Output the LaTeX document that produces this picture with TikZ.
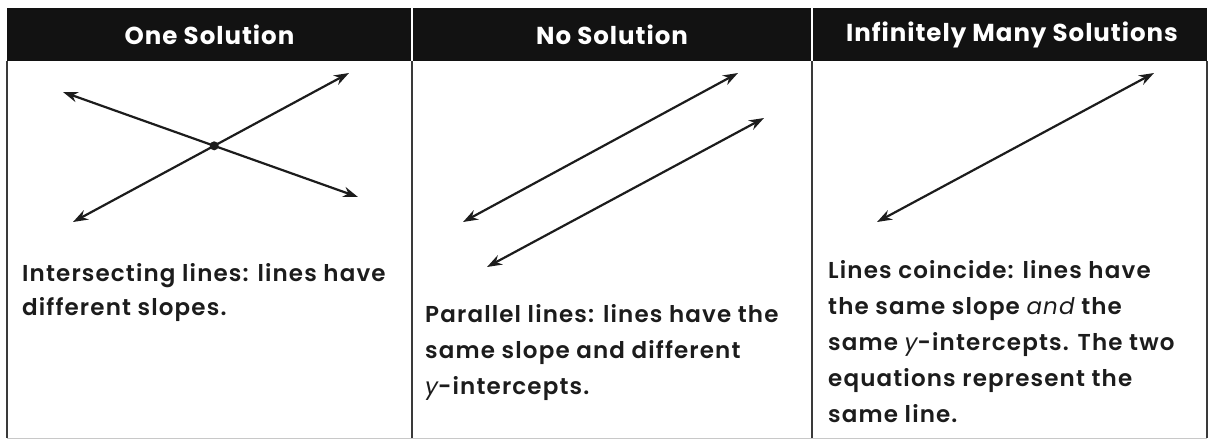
\documentclass[tikz,border=0pt]{standalone}
\usepackage{fontspec}
\setmainfont{Poppins}[BoldFont={* SemiBold},BoldItalicFont={* SemiBold Italic},LetterSpace=5]
\newfontfamily\hfont{Poppins}[LetterSpace=4]
\usetikzlibrary{arrows.meta}
\definecolor{ink}{HTML}{1C1C1C}
\definecolor{hdr}{HTML}{121212}
\definecolor{rulec}{HTML}{3A3A3A}
\definecolor{rulel}{HTML}{C8C8C8}
\begin{document}
\begin{tikzpicture}[x=1pt,y=-1pt,
  dbl/.style={{Stealth[length=15pt,width=10.5pt]}-{Stealth[length=15pt,width=10.5pt]}, line width=2.2pt, draw=ink},
  head/.style={text=white, font=\hfont\fontsize{24.5}{28}\selectfont\bfseries, anchor=center, inner sep=0pt},
  body/.style={anchor=base west, inner sep=0pt, text=ink},
  rule/.style={draw=rulec, line width=1.3pt},
]
\useasboundingbox (0,0) rectangle (1210,440);
% header bar
\fill[hdr] (7,8) rectangle (1207,61);
\draw[white, line width=1.4pt] (412,8) -- (412,61);
\draw[white, line width=1.4pt] (812,8) -- (812,61);
\node[head] (h1) at (209.5,34.5) {One Solution};
\node[head] (h2) at (612,34.5) {No Solution};
\node[head] (h3) at (1012,34.5) {Infinitely Many Solutions};
% body borders
\draw[rule] (7,61) -- (7,438);
\draw[rule] (412,61) -- (412,438);
\draw[rule] (812,61) -- (812,438);
\draw[rule] (1207,61) -- (1207,438);
\draw[draw=rulel, line width=1pt] (7,438) -- (1207,438);
% panel 1
\coordinate (a1) at (63,92);
\coordinate (a2) at (358,197);
\coordinate (b1) at (73,222);
\coordinate (b2) at (349,73);
\draw[dbl] (a1) -- (a2);
\draw[dbl] (b1) -- (b2);
\coordinate (x) at (intersection of a1--a2 and b1--b2);
\fill[ink] (x) circle (4.5pt);
% panel 2
\coordinate (c1) at (463,222);
\coordinate (c2) at (738,73);
\coordinate (d1) at (487,267);
\coordinate (d2) at (764,118);
\draw[dbl] (c1) -- (c2);
\draw[dbl] (d1) -- (d2);
% panel 3
\coordinate (e1) at (877,222);
\coordinate (e2) at (1154,73);
\draw[dbl] (e1) -- (e2);
% texts
\node[body] (t1) at (22,281) {\parbox[t]{385pt}{\raggedright\fontsize{23}{34}\selectfont\bfseries Intersecting lines: lines have\\different slopes.}};
\node[body] (t2) at (425,322) {\parbox[t]{385pt}{\raggedright\fontsize{23}{36}\selectfont\bfseries Parallel lines: lines have the\\same slope and different\\{\mdseries\itshape y}-intercepts.}};
\node[body] (t3) at (828,278) {\parbox[t]{378pt}{\raggedright\fontsize{23}{36}\selectfont\bfseries Lines coincide: lines have\\the same slope {\mdseries\itshape and} the\\same {\mdseries\itshape y}-intercepts. The two\\equations represent the\\same line.}};
\end{tikzpicture}
\end{document}
